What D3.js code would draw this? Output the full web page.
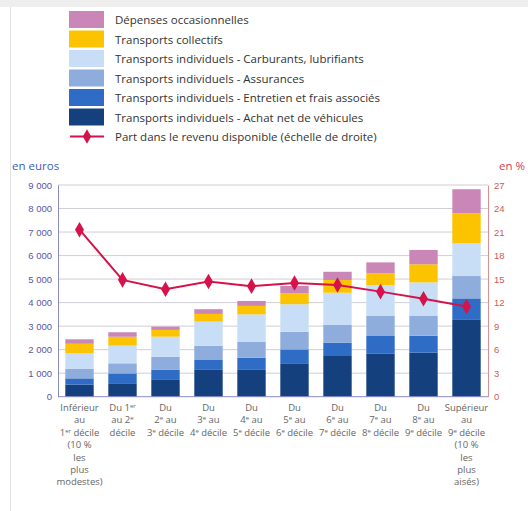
<!DOCTYPE html>
<html><head><meta charset="utf-8">
<script src="https://cdn.jsdelivr.net/npm/d3@7"></script>
<style>body{margin:0;background:#fff;}svg{display:block;font-family:"Open Sans","Noto Sans",sans-serif;}</style>
</head><body><svg id="c" width="528" height="511"></svg>
<script>
const categories = ["D1","D2","D3","D4","D5","D6","D7","D8","D9","D10"];
const catLabels = [
  [["Inférieur"],["au"],["1","er"," décile"],["(10 %"],["les"],["plus"],["modestes)"]],
  [["Du 1","er"],["au 2","e"],["décile"]],
  [["Du"],["2","e"," au"],["3","e"," décile"]],
  [["Du"],["3","e"," au"],["4","e"," décile"]],
  [["Du"],["4","e"," au"],["5","e"," décile"]],
  [["Du"],["5","e"," au"],["6","e"," décile"]],
  [["Du"],["6","e"," au"],["7","e"," décile"]],
  [["Du"],["7","e"," au"],["8","e"," décile"]],
  [["Du"],["8","e"," au"],["9","e"," décile"]],
  [["Supérieur"],["au"],["9","e"," décile"],["(10 %"],["les"],["plus"],["aisés)"]]
];
const seriesNames = ["Transports individuels - Achat net de véhicules","Transports individuels - Entretien et frais associés","Transports individuels - Assurances","Transports individuels - Carburants, lubrifiants","Transports collectifs","Dépenses occasionnelles"];
const achat      = [510, 570, 740, 1140, 1140, 1420, 1730, 1840, 1870, 3290];
const entretien  = [270, 420, 400, 420, 520, 590, 570, 740, 720, 890];
const assurances = [400, 430, 560, 600, 680, 750, 750, 850, 840, 950];
const carburants = [660, 750, 850, 1030, 1160, 1170, 1370, 1320, 1430, 1390];
const collectifs = [410, 380, 290, 330, 360, 470, 540, 500, 770, 1280];
const occasion   = [190, 190, 140, 200, 210, 310, 350, 460, 610, 1020];
const part       = [21.3, 14.9, 13.7, 14.7, 14.1, 14.5, 14.25, 13.4, 12.5, 11.5];
const leftTicks = [0,1000,2000,3000,4000,5000,6000,7000,8000,9000];
const rightTicks = [0,3,6,9,12,15,18,21,24,27];
const lineName = "Part dans le revenu disponible (échelle de droite)";
const colors = ["#15407e","#2f6cc6","#8eacdc","#c8def6","#fcc400","#c986b6"];
const lineColor = "#d5134a";

const svg = d3.select("#c");
svg.append("rect").attr("x",0).attr("y",0).attr("width",528).attr("height",7).attr("fill","#eeeeee");
svg.append("line").attr("x1",10.5).attr("x2",10.5).attr("y1",7).attr("y2",511).attr("stroke","#e2e2e2");

const m = {l:58, r:488, t:185, b:396.7};
const x = d3.scaleBand().domain(categories).range([m.l, m.r]).paddingInner(0.34).paddingOuter(0.17);
const y = d3.scaleLinear().domain([0,9000]).range([m.b, m.t]);
const y2 = d3.scaleLinear().domain([0,27]).range([m.b, m.t]);

svg.append("g").selectAll("line").data(leftTicks.slice(1)).join("line")
  .attr("x1",m.l).attr("x2",m.r).attr("y1",d=>y(d)).attr("y2",d=>y(d))
  .attr("stroke","#cfcfd6").attr("stroke-width",1);

const table = categories.map((c,i)=>({cat:c, s0:achat[i], s1:entretien[i], s2:assurances[i], s3:carburants[i], s4:collectifs[i], s5:occasion[i]}));
const stack = d3.stack().keys(["s0","s1","s2","s3","s4","s5"])(table);
svg.append("g").selectAll("g").data(stack).join("g").attr("fill",(d,i)=>colors[i])
  .selectAll("rect").data(d=>d).join("rect")
  .attr("x",d=>x(d.data.cat)).attr("width",x.bandwidth())
  .attr("y",d=>y(d[1])).attr("height",d=>y(d[0])-y(d[1]));

const lAxis = svg.append("g").attr("transform",`translate(${m.l},0)`).call(d3.axisLeft(y).tickValues(leftTicks).tickSize(0).tickPadding(6).tickFormat(d=>d3.format(",")(d).replace(/,/g," ")));
lAxis.select(".domain").attr("stroke","#8a8ac8");
lAxis.selectAll("text").attr("fill","#5656a6").attr("font-size",9.5);
const rAxis = svg.append("g").attr("transform",`translate(${m.r},0)`).call(d3.axisRight(y2).tickValues(rightTicks).tickSize(0).tickPadding(6));
rAxis.select(".domain").attr("stroke","#d89090");
rAxis.selectAll("text").attr("fill","#cf5a5a").attr("font-size",9.5);
svg.append("line").attr("x1",m.l).attr("x2",m.r).attr("y1",m.b).attr("y2",m.b).attr("stroke","#8a8ac8");

svg.append("text").attr("x",12).attr("y",170).text("en euros").attr("fill","#3c5cb4").attr("font-size",11.5);
svg.append("text").attr("x",499).attr("y",170).text("en %").attr("fill","#cf3d55").attr("font-size",11.5);

const cx = c=>x(c)+x.bandwidth()/2;
svg.append("path").datum(part).attr("fill","none").attr("stroke",lineColor).attr("stroke-width",2)
  .attr("d",d3.line().x((d,i)=>cx(categories[i])).y(d=>y2(d)));
svg.append("g").selectAll("path").data(part).join("path")
  .attr("transform",(d,i)=>`translate(${cx(categories[i])},${y2(d)})`)
  .attr("d",d3.symbol().type(d3.symbolDiamond).size(70)).attr("fill",lineColor);

const xl = svg.append("g");
catLabels.forEach((lines,i)=>{
  lines.forEach((parts,j)=>{
    const t = xl.append("text").attr("x",cx(categories[i])).attr("y",411 + j*12.4)
      .attr("text-anchor","middle").attr("fill","#666").attr("font-size",9.5);
    t.append("tspan").text(parts[0]);
    if(parts.length>1){
      t.append("tspan").attr("font-size",6).attr("baseline-shift","3").text(parts[1]);
      if(parts[2]) t.append("tspan").text(parts[2]);
    }
  });
});

const legItems = seriesNames.map((n,i)=>({n, c:colors[i]})).reverse();
const lg = svg.append("g");
legItems.forEach((d,i)=>{
  const yy = 11 + i*19.5;
  lg.append("rect").attr("x",69).attr("y",yy).attr("width",35).attr("height",17).attr("fill",d.c);
  lg.append("text").attr("x",115).attr("y",yy+13).text(d.n).attr("fill","#333").attr("font-size",11.5);
});
const ly = 11 + 6*19.5 + 8.5;
lg.append("line").attr("x1",70).attr("x2",104).attr("y1",ly).attr("y2",ly).attr("stroke",lineColor).attr("stroke-width",2);
lg.append("path").attr("transform",`translate(87,${ly})`).attr("d",d3.symbol().type(d3.symbolDiamond).size(60)).attr("fill",lineColor);
lg.append("text").attr("x",115).attr("y",ly+4.5).text(lineName).attr("fill","#333").attr("font-size",11.5);
</script></body></html>
